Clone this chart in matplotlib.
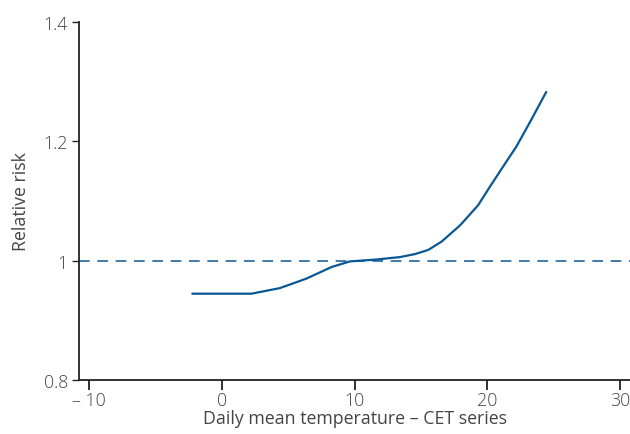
import matplotlib
matplotlib.use("Agg")
from matplotlib import pyplot as plt

temp = [-2.28, 2.24, 4.37, 6.38, 8.27, 9.65, 11.66, 13.41, 14.54, 15.55,
        16.56, 17.94, 19.31, 20.2, 21.08, 22.21, 23.21, 24.47]
risk = [0.9447, 0.9447, 0.954, 0.970, 0.9894, 0.9988, 1.002, 1.006, 1.011, 1.018,
        1.032, 1.059, 1.093, 1.124, 1.154, 1.192, 1.232, 1.284]

xticks = [-10, 0, 10, 20, 30]
xlabels = ["\u2013 10", "0", "10", "20", "30"]
yticks = [0.8, 1.0, 1.2, 1.4]
ylabels = ["0.8", "1", "1.2", "1.4"]

plt.rcParams['font.family'] = ['Open Sans', 'DejaVu Sans']
plt.rcParams['font.weight'] = 'light'
text_col = "#444444"
blue = "#0a5795"

fig = plt.figure(figsize=(6.3, 4.35), dpi=100)
ax = fig.add_axes([0.1254, 0.1241, 0.8746, 0.8229])

ax.plot(temp, risk, color=blue, linewidth=1.6, solid_capstyle="butt")
ax.axhline(1.0, color=blue, linewidth=1.1, linestyle=(0, (7, 5)))

ax.set_xlim(-10.75, 30.75)
ax.set_ylim(0.8, 1.4)
ax.set_xticks(xticks)
ax.set_xticklabels(xlabels)
ax.set_yticks(yticks)
ax.set_yticklabels(ylabels)

for side in ["top", "right"]:
    ax.spines[side].set_visible(False)
for side in ["left", "bottom"]:
    ax.spines[side].set_linewidth(1.3)
    ax.spines[side].set_color("#222222")

ax.tick_params(axis="x", length=7, width=1.3, color="#222222", labelsize=12.8,
               labelcolor=text_col, pad=1)
ax.tick_params(axis="y", length=5, width=1.0, color="#222222", labelsize=12.8,
               labelcolor=text_col, pad=3)

ax.set_xlabel("Daily mean temperature \u2013 CET series", fontsize=12.8,
              color=text_col, labelpad=0)
ax.set_ylabel("Relative risk", fontsize=12.8, color=text_col, labelpad=10)

fig.savefig("out.png", dpi=100)
